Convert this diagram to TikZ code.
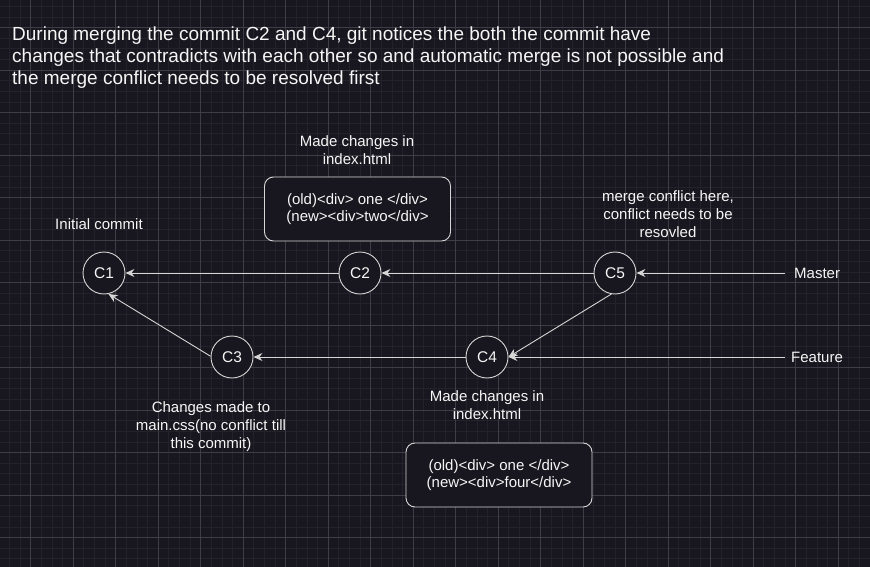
\documentclass[tikz,border=0pt]{standalone}
\usepackage{fontspec}
\setmainfont{Liberation Sans}
\usetikzlibrary{arrows.meta}

\definecolor{bgdark}{RGB}{24,22,30}
\definecolor{gridmajor}{RGB}{62,60,68}
\definecolor{gridminor}{RGB}{35,33,41}
\definecolor{edgegray}{RGB}{214,214,214}
\definecolor{textwhite}{RGB}{246,246,246}

\tikzset{
  commit/.style={circle, draw=edgegray, line width=0.9pt, fill=bgdark,
    minimum size=42pt, inner sep=0pt, text=textwhite,
    font=\fontsize{15.5}{18}\selectfont},
  label/.style={align=center, text=textwhite, inner sep=0pt,
    font=\fontsize{15}{18}\selectfont},
  codebox/.style={draw=edgegray, line width=0.9pt, rounded corners=9pt,
    fill=bgdark, minimum width=186pt, minimum height=64pt, align=center,
    text=textwhite, font=\fontsize{15}{17.5}\selectfont},
  link/.style={draw=edgegray, line width=0.9pt,
    -{Stealth[length=9pt,width=8pt,inset=3pt]}}
}

\begin{document}
\begin{tikzpicture}[x=1pt,y=-1pt]
    % Draw background
    \fill[bgdark] (0,0) rectangle (870,567);
    \useasboundingbox (0,0) rectangle (870,567);

    % Draw grid
    \foreach \i in {-3,...,82}
        \draw[gridminor, line width=0.7pt] (30.7+10.625*\i,0) -- (30.7+10.625*\i,567);
    \foreach \i in {-3,...,54}
        \draw[gridminor, line width=0.7pt] (0,27.5+10.625*\i) -- (870,27.5+10.625*\i);
    \foreach \i in {-1,...,20}
        \draw[gridmajor, line width=0.8pt] (30.7+42.5*\i,0) -- (30.7+42.5*\i,567);
    \foreach \i in {-1,...,13}
        \draw[gridmajor, line width=0.8pt] (0,27.5+42.5*\i) -- (870,27.5+42.5*\i);

    % Title
    \node[anchor=west, align=left, text=textwhite, inner sep=0pt,
        font=\fontsize{19}{22}\selectfont] (title) at (12,58)
        {During merging the commit C2 and C4, git notices the both the commit have\\
         changes that contradicts with each other so and automatic merge is not possible and\\
         the merge conflict needs to be resolved first};

    % Commits
    \node[commit] (c1) at (104,273) {C1};
    \node[commit] (c2) at (360,273) {C2};
    \node[commit] (c5) at (615,273) {C5};
    \node[commit] (c3) at (232,357) {C3};
    \node[commit] (c4) at (487,357) {C4};

    % Labels
    \node[label] (initlabel) at (99,224) {Initial commit};
    \node[label] (c2label) at (357,150) {Made changes in\\index.html};
    \node[label] (c5label) at (668,214) {merge conflict here,\\conflict needs to be\\resovled};
    \node[label] (c3label) at (211,427) {Changes made to\\main.css(no conflict till\\this commit)};
    \node[label] (c4label) at (487,405) {Made changes in\\index.html};
    \node[label, anchor=west] (master) at (794,273) {Master};
    \node[label, anchor=west] (feature) at (791,357) {Feature};

    % Code boxes
    \node[codebox] (c2box) at (357.5,209) {(old)<div> one </div>\\(new><div>two</div>};
    \node[codebox] (c4box) at (499,475) {(old)<div> one </div>\\(new><div>four</div>};

    % Branch line ends
    \coordinate (masterend) at (785,273);
    \coordinate (featureend) at (785,357);

    % Draw edges
    \draw[link] (c2) -- (c1);
    \draw[link] (c5) -- (c2);
    \draw[link] (c3.178) -- (c1.-78);
    \draw[link] (c4) -- (c3);
    \draw[link] (c5.-100) -- (c4.east);
    \draw[link] (masterend) -- (c5);
    \draw[link] (featureend) -- (c4);
\end{tikzpicture}
\end{document}
